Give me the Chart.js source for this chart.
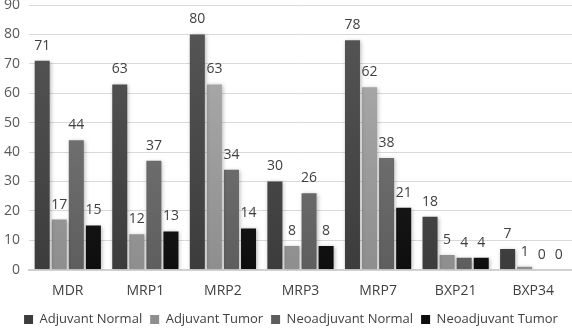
<!DOCTYPE html>
<html>
<head>
<meta charset="utf-8">
<script src="https://cdn.jsdelivr.net/npm/chart.js@4.4.1/dist/chart.umd.min.js"></script>
<style>
  html, body { margin: 0; padding: 0; background: #fff; }
  #wrap { width: 572px; height: 330px; position: relative; }
</style>
</head>
<body>
<div id="wrap"><canvas id="c"></canvas></div>
<script>
// Transporter expression by marker and treatment group
const categories = ['MDR', 'MRP1', 'MRP2', 'MRP3', 'MRP7', 'BXP21', 'BXP34'];
const adjuvantNormal    = [71, 63, 80, 30, 78, 18, 7];
const adjuvantTumor     = [17, 12, 63, 8, 62, 5, 1];
const neoadjuvantNormal = [44, 37, 34, 26, 38, 4, 0];
const neoadjuvantTumor  = [15, 13, 14, 8, 21, 4, 0];
const yTicks = [0, 10, 20, 30, 40, 50, 60, 70, 80, 90];

const FONT = '"Open Sans", "DejaVu Sans", sans-serif';

// vertical shading for each series: lighter top, darker bottom
function shade(top, bottom, solid) {
  return function (ctx) {
    const chart = ctx.chart;
    const area = chart.chartArea;
    if (!area) return solid;
    const g = chart.ctx.createLinearGradient(0, area.top, 0, area.bottom);
    g.addColorStop(0, top);
    g.addColorStop(1, bottom);
    return g;
  };
}

// value labels drawn above each bar
const valueLabels = {
  id: 'valueLabels',
  afterDatasetsDraw(chart) {
    const ctx = chart.ctx;
    ctx.save();
    ctx.font = '14px ' + FONT;
    ctx.fillStyle = '#404040';
    ctx.textAlign = 'center';
    ctx.textBaseline = 'bottom';
    chart.data.datasets.forEach((ds, i) => {
      const meta = chart.getDatasetMeta(i);
      meta.data.forEach((bar, j) => {
        ctx.fillText(String(ds.data[j]), bar.x, bar.y - 8);
      });
    });
    ctx.restore();
  }
};

// soft drop shadow behind the bars
const barShadow = {
  id: 'barShadow',
  beforeDatasetsDraw(chart) {
    const ctx = chart.ctx;
    ctx.save();
    ctx.shadowColor = 'rgba(0,0,0,0.28)';
    ctx.shadowBlur = 4;
    ctx.shadowOffsetX = 1;
    ctx.shadowOffsetY = 1;
  },
  afterDatasetsDraw(chart) {
    chart.ctx.restore();
  }
};

// nudge the legend row a little lower and to the right
const legendNudge = {
  id: 'legendNudge',
  afterLayout(chart) {
    const lg = chart.legend;
    if (!lg) return;
    lg.top += 6; lg.bottom += 6;
    lg.left += 5; lg.right += 5;
  }
};

new Chart(document.getElementById('c'), {
  type: 'bar',
  data: {
    labels: categories,
    datasets: [
      { label: 'Adjuvant Normal',    data: adjuvantNormal,    backgroundColor: shade('#575757', '#3c3c3c', '#4a4a4a') },
      { label: 'Adjuvant Tumor',     data: adjuvantTumor,     backgroundColor: shade('#b0b0b0', '#8e8e8e', '#a0a0a0') },
      { label: 'Neoadjuvant Normal', data: neoadjuvantNormal, backgroundColor: shade('#808080', '#5e5e5e', '#707070') },
      { label: 'Neoadjuvant Tumor',  data: neoadjuvantTumor,  backgroundColor: shade('#2a2a2a', '#0e0e0e', '#1c1c1c') }
    ]
  },
  options: {
    responsive: true,
    maintainAspectRatio: false,
    animation: false,
    devicePixelRatio: 1,
    layout: { padding: { top: 5, right: 0, left: 0, bottom: 0 } },
    datasets: { bar: { categoryPercentage: 0.88, barPercentage: 0.88 } },
    scales: {
      x: {
        grid: { display: false, drawTicks: false },
        border: { display: true, color: '#d0d0d0', width: 2 },
        ticks: { color: '#404040', font: { family: FONT, size: 14 }, padding: 13 },
        afterFit(scale) { scale.height = 29.4; scale.paddingLeft = 0; scale.paddingRight = 0; }
      },
      y: {
        min: 0,
        max: 90,
        afterBuildTicks(scale) { scale.ticks = yTicks.map(v => ({ value: v })); },
        grid: { color: '#d9d9d9', lineWidth: 1, drawTicks: false },
        border: { display: false },
        ticks: { color: '#595959', font: { family: FONT, size: 14 }, padding: 9 },
        afterFit(scale) { scale.width = 29; scale.paddingTop = 0; scale.paddingBottom = 0; }
      }
    },
    plugins: {
      legend: {
        position: 'bottom',
        align: 'center',
        labels: {
          color: '#404040',
          font: { family: FONT, size: 13 },
          boxWidth: 9,
          boxHeight: 9,
          padding: 8
        }
      },
      tooltip: { enabled: false }
    }
  },
  plugins: [barShadow, valueLabels, legendNudge]
});
</script>
</body>
</html>
